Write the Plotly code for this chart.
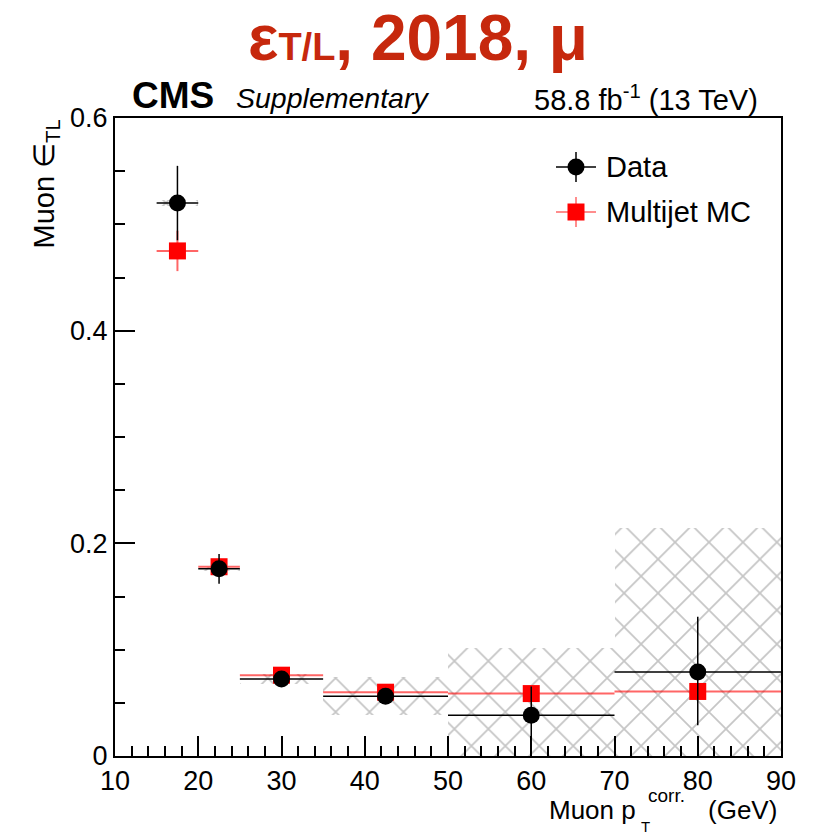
import plotly.graph_objects as go

# Muon tight-to-loose ratio vs corrected pT, 2018
bin_centers = [17.5, 22.5, 30.0, 42.5, 60.0, 80.0]
bin_half_widths = [2.5, 2.5, 5.0, 7.5, 10.0, 10.0]

data_eff = [0.520, 0.176, 0.0725, 0.0562, 0.0383, 0.079]
data_err_up = [0.035, 0.014, 0.003, 0.004, 0.027, 0.052]
data_err_dn = [0.035, 0.014, 0.003, 0.004, 0.038, 0.050]

mc_eff = [0.475, 0.178, 0.076, 0.060, 0.0587, 0.0607]
mc_err = [0.019, 0.003, 0.002, 0.002, 0.002, 0.003]

syst_err = [0.003, 0.002, 0.005, 0.018, 0.063, 0.135]

FONT = "Arial, Liberation Sans, Helvetica, sans-serif"
W, H = 820, 835
L, R, T, B = 115, 39, 118, 79


def px(x, y):
    """pixel position -> paper coordinates"""
    return (x - L) / (W - L - R), (H - B - y) / (H - T - B)


fig = go.Figure()

# systematic band (cross-hatched)
fig.add_trace(go.Bar(
    x=bin_centers,
    y=[2 * e for e in syst_err],
    base=[d - e for d, e in zip(data_eff, syst_err)],
    width=[2 * w for w in bin_half_widths],
    marker=dict(color="rgba(0,0,0,0)", line=dict(width=0),
                pattern=dict(shape="x", size=24, solidity=0.14,
                             fgcolor="#8c8c8c", bgcolor="rgba(0,0,0,0)",
                             fillmode="overlay")),
    showlegend=False, hoverinfo="skip",
))

# multijet MC
fig.add_trace(go.Scatter(
    x=bin_centers, y=mc_eff, mode="markers", name="Multijet MC",
    marker=dict(symbol="square", size=17, color="#ff0000"),
    error_x=dict(type="data", array=bin_half_widths, width=0,
                 thickness=2, color="rgba(255,0,0,0.6)"),
    error_y=dict(type="data", array=mc_err, width=0,
                 thickness=2, color="rgba(255,0,0,0.6)"),
    showlegend=False,
))

# data
fig.add_trace(go.Scatter(
    x=bin_centers, y=data_eff, mode="markers", name="Data",
    marker=dict(symbol="circle", size=17, color="black"),
    error_x=dict(type="data", array=bin_half_widths, width=0,
                 thickness=1.5, color="black"),
    error_y=dict(type="data", symmetric=False, array=data_err_up,
                 arrayminus=data_err_dn, width=0, thickness=1.5,
                 color="black"),
    showlegend=False,
))

shapes = []
ann = []


def text_at(x, y, text, size, xanchor="left", yanchor="middle",
            color="black", **kw):
    tx, ty = px(x, y)
    ann.append(dict(x=tx, y=ty, xref="paper", yref="paper", text=text,
                    showarrow=False, xanchor=xanchor, yanchor=yanchor,
                    font=dict(family=FONT, size=size, color=color), **kw))


# legend entries
def legend_entry(yc, color, line_color, symbol, label):
    x0, _ = px(556, 0)
    x1, _ = px(596, 0)
    xc, yy = px(576, yc)
    _, ytop = px(0, yc - 15)
    _, ybot = px(0, yc + 15)
    shapes.append(dict(type="line", xref="paper", yref="paper",
                       x0=x0, x1=x1, y0=yy, y1=yy,
                       line=dict(color=line_color, width=1.5)))
    shapes.append(dict(type="line", xref="paper", yref="paper",
                       x0=xc, x1=xc, y0=ybot, y1=ytop,
                       line=dict(color=line_color, width=1.5)))
    a, b = px(576 - 8.5, yc + 8.5)
    c, d = px(576 + 8.5, yc - 8.5)
    shapes.append(dict(type="circle" if symbol == "circle" else "rect",
                       xref="paper", yref="paper", x0=a, y0=b, x1=c, y1=d,
                       fillcolor=color, line=dict(width=0)))
    text_at(604, yc, label, 29)


legend_entry(167, "black", "black", "circle", "Data")
legend_entry(212, "#ff0000", "rgba(255,0,0,0.6)", "square", "Multijet MC")

# title
text_at(418, 38, "<b>ε<span style='font-size:38px'>T/L</span>, 2018, μ</b>",
        64, xanchor="center", color="#c6280d")

# CMS label
text_at(130, 96, "<b>CMS</b>", 37)
text_at(234, 98, "<i>Supplementary</i>", 28.5)
text_at(760, 98, "58.8 fb<sup>-1</sup> (13 TeV)", 29, xanchor="right")

# y-axis title
text_at(45, 118, "Muon ∈<sub>TL</sub>", 29, xanchor="center",
        yanchor="top", textangle=-90)

# x-axis title
text_at(638, 810, "Muon p", 26, xanchor="right")
text_at(646, 795, "corr.", 19)
text_at(639, 826, "T", 15)
text_at(779, 810, "(GeV)", 26, xanchor="right")

axis_common = dict(
    showgrid=False, zeroline=False, showline=True, linewidth=2,
    linecolor="black", mirror=True, ticks="inside", ticklen=20,
    tickwidth=1.5, tickcolor="black",
    tickfont=dict(family=FONT, size=27, color="black"),
)

fig.update_layout(
    width=W, height=H,
    margin=dict(l=L, r=R, t=T, b=B, pad=0),
    paper_bgcolor="white", plot_bgcolor="white",
    barmode="overlay", bargap=0,
    showlegend=False,
    xaxis=dict(range=[10, 90], tickmode="linear", tick0=10, dtick=10,
               minor=dict(ticks="inside", ticklen=10, dtick=2,
                          tickwidth=1.5, tickcolor="black"),
               **axis_common),
    yaxis=dict(range=[0, 0.6], tickmode="linear", tick0=0, dtick=0.2,
               minor=dict(ticks="inside", ticklen=10, dtick=0.05,
                          tickwidth=1.5, tickcolor="black"),
               **axis_common),
    shapes=shapes,
    annotations=ann,
)

fig.write_html("out.html")
